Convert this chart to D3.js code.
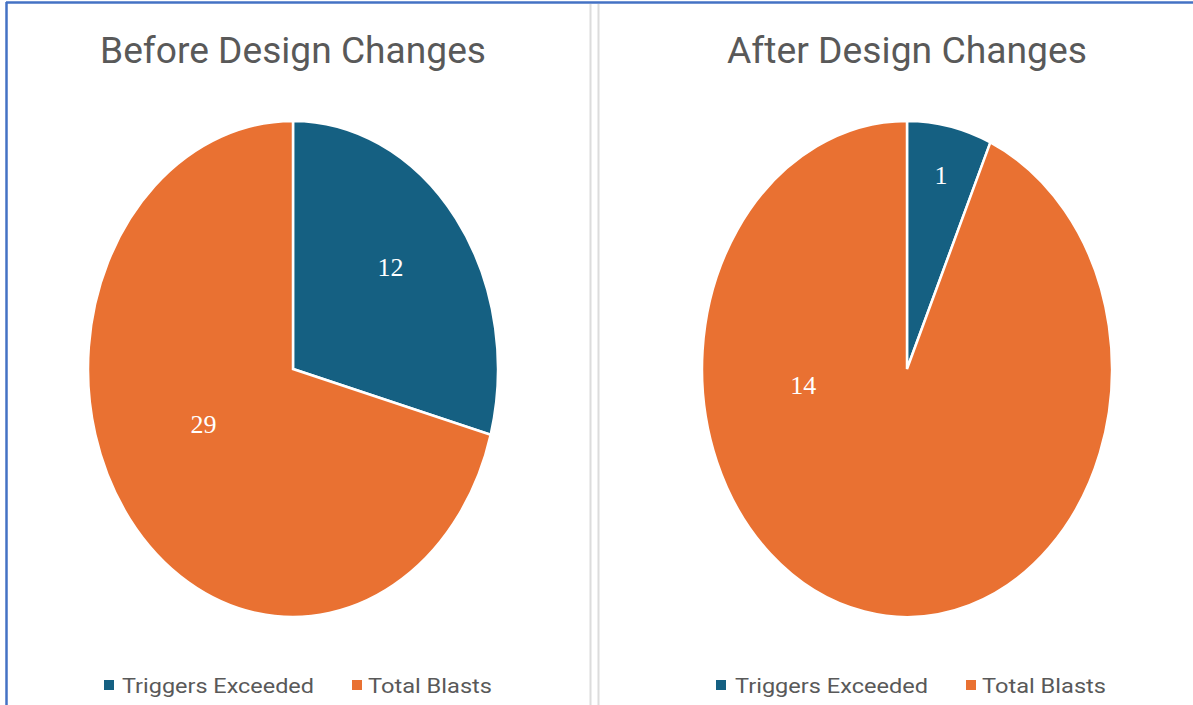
<!DOCTYPE html>
<html><head><meta charset="utf-8">
<script src="https://cdn.jsdelivr.net/npm/d3@7"></script>
<style>html,body{margin:0;padding:0;background:#fff;}svg{display:block;}</style>
</head><body>
<svg id="c" width="1193" height="705"></svg>
<script>
const categories = ["Triggers Exceeded", "Total Blasts"];
const titles = ["Before Design Changes", "After Design Changes"];
const beforeValues = [12, 29];
const afterValues = [1, 14];
const colors = ["#156082", "#E97132"];

const svg = d3.select("#c");
// frame
svg.append("line").attr("x1",6).attr("x2",1193).attr("y1",2.5).attr("y2",2.5).attr("stroke","#4472C4").attr("stroke-width",2.5);
svg.append("line").attr("x1",6.5).attr("x2",6.5).attr("y1",2).attr("y2",705).attr("stroke","#4472C4").attr("stroke-width",2.5);
svg.append("line").attr("x1",590.5).attr("x2",590.5).attr("y1",4).attr("y2",705).attr("stroke","#dcdcdc").attr("stroke-width",2);
svg.append("line").attr("x1",598.5).attr("x2",598.5).attr("y1",4).attr("y2",705).attr("stroke","#dcdcdc").attr("stroke-width",2);

const panels = [
  {values: beforeValues, title: titles[0], cx: 293, cy: 369, titleX: 293, titleW: 386,
   labels: [{r:0.63, a:49}, {r:0.49, a:243}],
   legend: [{sq:104, tx:122, tw:192}, {sq:352, tx:368, tw:124}]},
  {values: afterValues, title: titles[1], cx: 907, cy: 369, titleX: 907, titleW: 360,
   labels: [{r:0.8, a:12}, {r:0.51, a:263}],
   legend: [{sq:716, tx:735, tw:193}, {sq:966, tx:982, tw:124}]}
];
const rx = 205, ry = 248;

panels.forEach(p => {
  const pie = d3.pie().sort(null).value(d => d)(p.values);
  const arc = d3.arc().innerRadius(0).outerRadius(rx);
  const g = svg.append("g").attr("transform", `translate(${p.cx},${p.cy}) scale(1,${ry/rx})`);
  g.selectAll("path").data(pie).join("path")
    .attr("d", arc)
    .attr("fill", (d,i) => colors[i])
    .attr("stroke", "#fff").attr("stroke-width", 2.5)
    .attr("vector-effect", "non-scaling-stroke");
  // labels
  pie.forEach((d,i) => {
    const L = p.labels[i];
    const a = L.a * Math.PI/180;
    const x = p.cx + Math.sin(a) * L.r * rx;
    const y = p.cy - Math.cos(a) * L.r * ry;
    svg.append("text").attr("x", x).attr("y", y).attr("dy","0.35em")
      .attr("text-anchor","middle").attr("fill","#fff")
      .style("font-family","'Liberation Serif', 'DejaVu Serif', serif").style("font-size","26px")
      .text(d.data);
  });
  svg.append("text").attr("x", p.titleX).attr("y", 63).attr("text-anchor","middle")
    .attr("fill","#595959").style("font-family","Roboto, 'Liberation Sans', sans-serif").style("font-size","36px")
    .attr("textLength", p.titleW).attr("lengthAdjust","spacingAndGlyphs")
    .text(p.title);
  // legend
  categories.forEach((c,i) => {
    const L = p.legend[i];
    svg.append("rect").attr("x", L.sq).attr("y", 680).attr("width",10).attr("height",10).attr("fill",colors[i]);
    svg.append("text").attr("x", L.tx).attr("y", 693).attr("fill","#595959")
      .style("font-family","Roboto, 'Liberation Sans', sans-serif").style("font-size","21px")
      .attr("textLength", L.tw).attr("lengthAdjust","spacingAndGlyphs")
      .text(c);
  });
});
</script>
</body></html>
